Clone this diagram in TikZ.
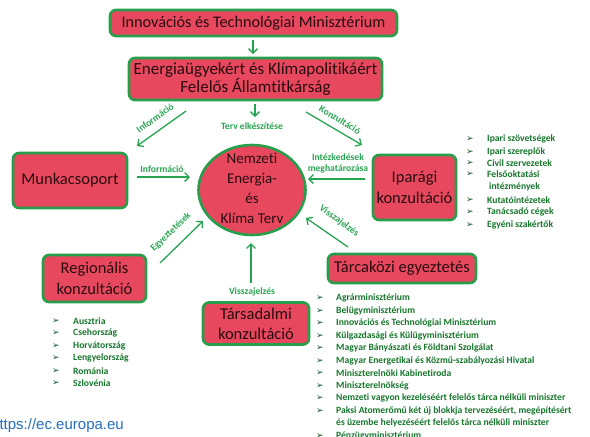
\documentclass[tikz,border=0pt]{standalone}
\usepackage{fontspec}
\setmainfont{Carlito}[Ligatures={NoCommon}]
\newfontfamily\bulletfont{DejaVu Sans}
\newfontfamily\urlfont{Liberation Sans}
\usetikzlibrary{arrows.meta,shapes.geometric}
\definecolor{boxred}{RGB}{232,72,94}
\definecolor{boxgreen}{RGB}{38,158,74}
\definecolor{arrgreen}{RGB}{40,165,82}
\definecolor{listgreen}{RGB}{22,118,44}
\definecolor{boxtext}{RGB}{40,12,16}
\definecolor{urlblue}{RGB}{38,108,190}
\tikzset{
  rbox/.style={draw=boxgreen, line width=2.6pt, fill=boxred, rounded corners=6pt,
    text=boxtext, align=center, inner sep=0pt, font=\fontsize{16.5}{21}\selectfont},
  arr/.style={draw=arrgreen, line width=1.3pt, -{Straight Barb[length=4.5pt,width=9pt]}},
  lbl/.style={text=arrgreen, font=\bfseries\fontsize{9.6}{11}\selectfont, inner sep=0pt, align=center},
  item/.style={text=listgreen, font=\bfseries\fontsize{9.6}{12}\selectfont, anchor=west, inner sep=0pt},
  bul/.style={text=listgreen!70!black, font=\bulletfont\fontsize{9}{10}\selectfont, anchor=west, inner sep=0pt}
}
\begin{document}
\begin{tikzpicture}[x=1pt,y=1pt]
\useasboundingbox (0,0) rectangle (590,-437);

% boxes
\node[rbox, minimum width=287, minimum height=26, font=\fontsize{16.2}{19}\selectfont] (itm) at (253.5,-23) {Innovációs és Technológiai Minisztérium};
\node[rbox, minimum width=253, minimum height=42, font=\fontsize{17}{18.5}\selectfont] (eka) at (255.5,-79) {Energiaügyekért és Klímapolitikáért\\Felelős Államtitkárság};
\node[draw=boxgreen, line width=2.6pt, fill=boxred, ellipse, minimum width=107, minimum height=90, inner sep=0pt] (circ) at (252,-190) {};
\node[text=boxtext, align=center, inner sep=0pt, font=\fontsize{15}{20}\selectfont] (nekt) at (252,-188) {Nemzeti\\Energia-\\és\\Klíma Terv};
\node[rbox, minimum width=114, minimum height=55] (munka) at (70,-180.5) {Munkacsoport};
\node[rbox, minimum width=83, minimum height=65] (ipar) at (414.5,-187.5) {Iparági\\konzultáció};
\node[rbox, minimum width=103, minimum height=47] (reg) at (94.5,-278.5) {Regionális\\konzultáció};
\node[rbox, minimum width=106, minimum height=42, font=\fontsize{16.5}{20}\selectfont] (tars) at (256,-323.5) {Társadalmi\\konzultáció};
\node[rbox, minimum width=148, minimum height=29] (tarca) at (402,-268.5) {Tárcaközi egyeztetés};

% arrow end points
\coordinate (a1s) at (253,-40);  \coordinate (a1e) at (253,-54);
\coordinate (a2s) at (255,-104); \coordinate (a2e) at (255,-117);
\coordinate (a3s) at (186,-111); \coordinate (a3e) at (137,-146);
\coordinate (a4s) at (137,-177); \coordinate (a4e) at (190,-177);
\coordinate (a5s) at (306,-112); \coordinate (a5e) at (362,-145);
\coordinate (a6s) at (365,-179); \coordinate (a6e) at (308,-179);
\coordinate (a7s) at (160,-263); \coordinate (a7e) at (203,-221);
\coordinate (a8s) at (348,-247); \coordinate (a8e) at (306,-218);
\coordinate (a9s) at (251,-283); \coordinate (a9e) at (251,-243);

\draw[arr] (a1s) -- (a1e);
\draw[arr] (a2s) -- (a2e);
\draw[arr] (a3s) -- (a3e);
\draw[arr] (a4s) -- (a4e);
\draw[arr] (a5s) -- (a5e);
\draw[arr] (a6s) -- (a6e);
\draw[arr] (a7s) -- (a7e);
\draw[arr] (a8s) -- (a8e);
\draw[arr] (a9s) -- (a9e);

% arrow labels
\node[lbl] (l2) at (252,-126) {Terv elkészítése};
\node[lbl, rotate=36] (l3) at (155,-118) {Információ};
\node[lbl] (l4) at (162,-169) {Információ};
\node[lbl, rotate=-31] (l5) at (340,-120) {Konzultáció};
\node[lbl, font=\bfseries\fontsize{9.6}{11.5}\selectfont] (l6) at (338,-163.5) {Intézkedések\\meghatározása};
\node[lbl, rotate=44] (l7) at (171,-232) {Egyeztetések};
\node[lbl, rotate=-36] (l8) at (339,-221) {Visszajelzés};
\node[lbl] (l9) at (252,-292) {Visszajelzés};

% right list
\foreach \y/\t [count=\i] in {139/Ipari szövetségek,151.7/Ipari szereplők,162.7/Civil szervezetek,174/Felsőoktatási,200/Kutatóintézetek,212.3/Tanácsadó cégek,225/Egyéni szakértők}{
  \node[bul] (rb\i) at (466,-\y) {➢};
  \node[item] (ri\i) at (487,-\y) {\t};
}
\node[item] (ri8) at (489,-187.3) {intézmények};

% left list
\foreach \y/\t [count=\i] in {320.7/Ausztria,333.3/Csehország,345.7/Horvátország,358.3/Lengyelország,370.7/Románia,383.3/Szlovénia}{
  \node[bul] (lb\i) at (52,-\y) {➢};
  \node[item] (li\i) at (73,-\y) {\t};
}

% lower list
\foreach \y/\t [count=\i] in {298.3/Agrárminisztérium,311/Belügyminisztérium,323.3/Innovációs és Technológiai Minisztérium,336/Külgazdasági és Külügyminisztérium,348.3/Magyar Bányászati és Földtani Szolgálat,360.7/Magyar Energetikai és Közmű-szabályozási Hivatal,373.3/Miniszterelnöki Kabinetiroda,385.7/Miniszterelnökség,398.3/Nemzeti vagyon kezeléséért felelős tárca nélküli miniszter,410.7/{Paksi Atomerőmű két új blokkja tervezéséért, megépítésért},436/Pénzügyminisztérium}{
  \node[bul] (bb\i) at (316,-\y) {➢};
  \node[item] (bi\i) at (336,-\y) {\t};
}
\node[item] (bi12) at (336,-423.3) {és üzembe helyezéséért felelős tárca nélküli miniszter};

% url
\node[anchor=west, inner sep=0pt, text=urlblue, font=\urlfont\fontsize{15}{16}\selectfont] (url) at (-9,-426) {https://ec.europa.eu};
\end{tikzpicture}
\end{document}
